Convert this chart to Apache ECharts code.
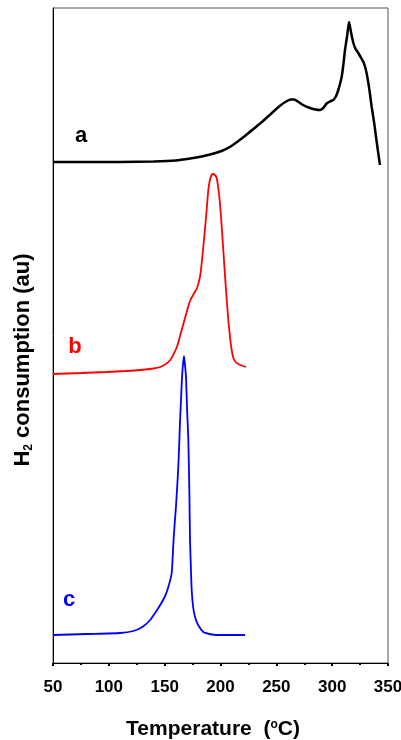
<!DOCTYPE html>
<html>
<head>
<meta charset="utf-8">
<script src="https://cdn.jsdelivr.net/npm/echarts@6/dist/echarts.min.js"></script>
<style>
html,body{margin:0;padding:0;background:#fff;}
#container{width:401px;height:740px;}
</style>
</head>
<body>
<div id="container"></div>
<script>
// temperature (C) , signal (au, stacked offsets)
var curveA = [[50,501],[80,501],[110,501],[140,501.5],[160,502.5],[173,504.5],[183,506.5],[194,509.5],[202,512.5],[209,516.5],[216,522],[223,528],[230,534.5],[236,540],[241,545],[248,552],[253,557],[258,561],[263,563.5],[266,563.5],[270,561],[274,558],[280,555],[285,553.5],[289,553],[292,555],[295,559.5],[298,561.5],[301,563],[303.5,567],[305.5,573],[307,579],[308.5,586],[310,598],[311.5,613],[313.5,628],[315.1,641],[317,630],[319,620],[321,614],[323.4,610],[326,605],[328,601],[330,594],[331.5,586],[333.5,572],[335.4,556],[337.5,541],[339.3,526],[341,512],[342.8,498]];
var curveB = [[50,289],[75,290],[98,291],[115,292],[128,293],[140,294.5],[146,296],[151,299],[155,303],[158,309],[161,316],[164,328],[167,340],[170,352],[173,363],[176,369],[179,375],[181.6,386],[183,398],[184.6,416],[186,433],[187.6,453],[189,472],[190.5,483],[192,488],[193,489],[195,488],[196.6,485],[198,475],[199.5,460],[201,438],[202.5,413],[204,388],[205.6,363],[207,343],[208.5,326],[210,313],[211.5,305],[213.5,301],[216,299],[219,297.5],[222.8,296]];
var curveC = [[50,28],[80,29],[110,30],[122,32],[130,36],[137,43],[142,51],[146,58],[150,66],[153,75],[156.3,90],[157.7,118],[159,140],[160.1,156],[161.2,176],[162.2,196],[163,218],[163.7,240],[164.5,260],[165.3,280],[166.2,296],[167.3,307],[168.2,298],[169.1,286],[170.2,250],[171.2,223],[172.1,173],[172.7,123],[173.5,95],[174.2,73],[175.5,56],[177.2,46],[180,38],[184.6,31],[190,29],[196.6,28],[210,28],[222,28]];
var seriesNames = ['a','b','c'];
var seriesColors = ['#000000','#ff0000','#0000ff'];

var chart = echarts.init(document.getElementById('container'));
var font = 'Liberation Sans, Arial, sans-serif';

var option = {
	animation: false,
	grid: {left:53, right:13, top:8, bottom:77, outerBoundsMode:'none',
		show:true, borderColor:'#555', borderWidth:1},
	xAxis: {
		type:'value', min:50, max:350, interval:50,
		axisLine:{show:true, lineStyle:{color:'#000', width:1}},
		axisTick:{show:true, length:3, lineStyle:{color:'#000', width:2}},
		minorTick:{show:true, splitNumber:2, length:2, lineStyle:{color:'#000', width:2}},
		splitLine:{show:false},
		axisLabel:{margin:16, color:'#000', fontSize:17, fontWeight:'bold', fontFamily:font}
	},
	yAxis: {
		type:'value', min:0, max:655,
		axisLine:{show:true, lineStyle:{color:'#000', width:1}},
		axisTick:{show:false}, axisLabel:{show:false}, splitLine:{show:false}
	},
	series: [
		{name:seriesNames[0], type:'line', data:curveA, showSymbol:false, smooth:0.2, lineStyle:{color:seriesColors[0], width:2.5}},
		{name:seriesNames[1], type:'line', data:curveB, showSymbol:false, smooth:0.2, lineStyle:{color:seriesColors[1], width:1.8}},
		{name:seriesNames[2], type:'line', data:curveC, showSymbol:false, smooth:0.2, lineStyle:{color:seriesColors[2], width:1.8}}
	],
	graphic: [
		{type:'text', x:213, y:729, style:{
			text:'Temperature  ({sup|o}C)', align:'center', verticalAlign:'middle',
			font:'bold 21px ' + font, fill:'#000',
			rich:{sup:{fontSize:12, fontWeight:'bold', fontFamily:font, verticalAlign:'top', padding:[0,0,9,0]}}
		}},
		{type:'text', x:23, y:360, rotation:Math.PI/2, style:{
			text:'H{sub|2} consumption (au)', align:'center', verticalAlign:'middle',
			font:'bold 22px ' + font, fill:'#000',
			rich:{sub:{fontSize:12, fontWeight:'bold', fontFamily:font, padding:[11,0,0,0]}}
		}},
		{type:'text', x:81, y:136, style:{text:'a', align:'center', verticalAlign:'middle', font:'bold 22px ' + font, fill:seriesColors[0]}},
		{type:'text', x:75, y:347, style:{text:'b', align:'center', verticalAlign:'middle', font:'bold 22px ' + font, fill:seriesColors[1]}},
		{type:'text', x:69, y:600, style:{text:'c', align:'center', verticalAlign:'middle', font:'bold 22px ' + font, fill:seriesColors[2]}}
	]
};
chart.setOption(option);
</script>
</body>
</html>
